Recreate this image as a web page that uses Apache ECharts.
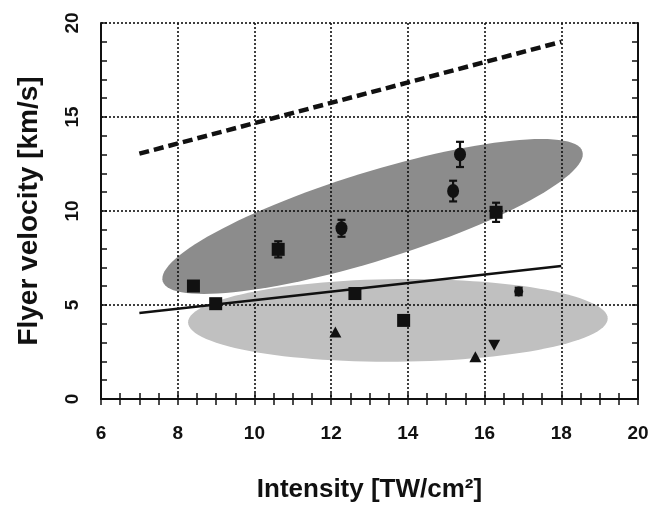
<!DOCTYPE html>
<html>
<head>
<meta charset="utf-8">
<script src="https://cdn.jsdelivr.net/npm/echarts@6/dist/echarts.min.js"></script>
<style>
html,body{margin:0;padding:0;background:#fff;}
#chart{width:662px;height:508px;}
</style>
</head>
<body>
<div id="chart"></div>
<script>
// ---- data ----
var xTicks = [6, 8, 10, 12, 14, 16, 18, 20];
var yTicks = [0, 5, 10, 15, 20];
var xAxisName = 'Intensity [TW/cm²]';
var yAxisName = 'Flyer velocity [km/s]';

// upper estimate (dashed) and lower estimate (solid) lines
var dashedLine = [[7, 13.05], [18, 19.0]];
var solidLine = [[7, 4.58], [18, 7.07]];

// shaded clusters: [centerX, centerY, axis1X, axis1Y, axis2X, axis2Y]
var darkCluster = [13.08, 9.71, 5.47, 3.46, 0.35, -2.24];
var lightCluster = [13.74, 4.18, 5.47, 0.1, 0.0, -2.2];

// measured points [x, y]
var squares = [[8.41, 6.01], [10.62, 7.96], [16.30, 9.93], [12.62, 5.61], [13.89, 4.18], [8.99, 5.07]];
var circles = [[12.27, 9.08], [15.18, 11.06], [15.36, 13.01]];
var smallCircles = [[16.89, 5.72]];
var trianglesUp = [[12.11, 3.57], [15.76, 2.25]];
var trianglesDown = [[16.25, 2.86]];

// error bars [x, low, high]
var errorBars = [
  [8.41, 5.86, 6.16],
  [10.62, 7.53, 8.39],
  [12.27, 8.63, 9.53],
  [15.18, 10.51, 11.61],
  [15.36, 12.34, 13.68],
  [16.30, 9.42, 10.44],
  [8.99, 4.87, 5.27],
  [16.89, 5.52, 5.92]
];

// ---- chart ----
var chart = echarts.init(document.getElementById('chart'), null, {renderer: 'canvas'});

function ellipseSeries(params, color) {
  return {
    type: 'custom',
    z: 1,
    silent: true,
    data: [params],
    renderItem: function (p, api) {
      var cx = api.value(0), cy = api.value(1);
      var ax = api.value(2), ay = api.value(3), bx = api.value(4), by = api.value(5);
      var pts = [];
      var n = 120;
      for (var i = 0; i < n; i++) {
        var t = i / n * Math.PI * 2;
        pts.push(api.coord([cx + ax * Math.cos(t) + bx * Math.sin(t), cy + ay * Math.cos(t) + by * Math.sin(t)]));
      }
      return {type: 'polygon', shape: {points: pts, smooth: 0}, style: {fill: color, stroke: null}};
    }
  };
}

var fontFam = '"Liberation Sans", Arial, Helvetica, sans-serif';
var ink = '#111';

var baseX = {
  type: 'value', min: xTicks[0], max: xTicks[xTicks.length - 1], interval: xTicks[1] - xTicks[0],
  z: 3
};
var baseY = {
  type: 'value', min: yTicks[0], max: yTicks[yTicks.length - 1], interval: yTicks[1] - yTicks[0],
  z: 3
};

var markStyle = {color: ink, opacity: 1};

var option = {
  backgroundColor: '#ffffff',
  animation: false,
  grid: {left: 101, top: 23, width: 537, height: 383, containLabel: false},
  xAxis: [
    Object.assign({}, baseX, {
      position: 'bottom',
      name: xAxisName,
      nameLocation: 'middle',
      nameGap: 78,
      nameTextStyle: {fontFamily: fontFam, fontWeight: 'bold', fontSize: 26, color: ink},
      axisLine: {show: true, lineStyle: {color: ink, width: 2}},
      axisTick: {show: true, inside: true, length: 6, lineStyle: {color: ink, width: 1.5}},
      minorTick: {show: true, splitNumber: 4, length: 6, lineStyle: {color: ink, width: 1.5}},
      axisLabel: {margin: 25, fontFamily: fontFam, fontWeight: 'bold', fontSize: 19, color: ink},
      splitLine: {show: true, lineStyle: {color: ink, width: 1.6, type: [2, 2]}}
    }),
    Object.assign({}, baseX, {
      position: 'top',
      axisLine: {show: true, lineStyle: {color: ink, width: 2}},
      axisTick: {show: true, inside: true, length: 6, lineStyle: {color: ink, width: 1.5}},
      minorTick: {show: true, splitNumber: 4, length: 6, lineStyle: {color: ink, width: 1.5}},
      axisLabel: {show: false},
      splitLine: {show: false}
    })
  ],
  yAxis: [
    Object.assign({}, baseY, {
      position: 'left',
      name: yAxisName,
      nameLocation: 'middle',
      nameGap: 58,
      nameRotate: 90,
      nameTextStyle: {fontFamily: fontFam, fontWeight: 'bold', fontSize: 28, color: ink},
      axisLine: {show: true, lineStyle: {color: ink, width: 2}},
      axisTick: {show: true, inside: true, length: 6, lineStyle: {color: ink, width: 1.5}},
      minorTick: {show: true, splitNumber: 5, length: 6, lineStyle: {color: ink, width: 1.5}},
      axisLabel: {rotate: 90, margin: 19, fontFamily: fontFam, fontWeight: 'bold', fontSize: 19, color: ink},
      splitLine: {show: true, lineStyle: {color: ink, width: 1.6, type: [2, 2]}}
    }),
    Object.assign({}, baseY, {
      position: 'right',
      axisLine: {show: true, lineStyle: {color: ink, width: 2}},
      axisTick: {show: true, inside: true, length: 6, lineStyle: {color: ink, width: 1.5}},
      minorTick: {show: true, splitNumber: 5, length: 6, lineStyle: {color: ink, width: 1.5}},
      axisLabel: {show: false},
      splitLine: {show: false}
    })
  ],
  series: [
    ellipseSeries(darkCluster, '#8c8c8c'),
    ellipseSeries(lightCluster, '#c0c0c0'),
    {
      type: 'line', z: 5, data: dashedLine, showSymbol: false, symbol: 'none',
      lineStyle: {color: ink, width: 4.5, type: [10, 5]}
    },
    {
      type: 'line', z: 5, data: solidLine, showSymbol: false, symbol: 'none',
      lineStyle: {color: ink, width: 2.5, type: 'solid'}
    },
    {
      type: 'custom', z: 6, data: errorBars,
      renderItem: function (p, api) {
        var x = api.value(0);
        var lo = api.coord([x, api.value(1)]);
        var hi = api.coord([x, api.value(2)]);
        var w = 4;
        var st = {stroke: ink, lineWidth: 2.2};
        return {type: 'group', children: [
          {type: 'line', shape: {x1: lo[0], y1: lo[1], x2: hi[0], y2: hi[1]}, style: st},
          {type: 'line', shape: {x1: lo[0] - w, y1: lo[1], x2: lo[0] + w, y2: lo[1]}, style: st},
          {type: 'line', shape: {x1: hi[0] - w, y1: hi[1], x2: hi[0] + w, y2: hi[1]}, style: st}
        ]};
      }
    },
    {type: 'scatter', z: 7, data: squares, symbol: 'rect', symbolSize: 13, itemStyle: markStyle},
    {type: 'scatter', z: 7, data: circles, symbol: 'circle', symbolSize: [12, 14], itemStyle: markStyle},
    {type: 'scatter', z: 7, data: smallCircles, symbol: 'circle', symbolSize: [9, 10], itemStyle: markStyle},
    {type: 'scatter', z: 7, data: trianglesUp, symbol: 'triangle', symbolSize: [12, 11], itemStyle: markStyle},
    {type: 'scatter', z: 7, data: trianglesDown, symbol: 'triangle', symbolRotate: 180, symbolSize: [12, 11], itemStyle: markStyle}
  ]
};
chart.setOption(option);
</script>
</body>
</html>
